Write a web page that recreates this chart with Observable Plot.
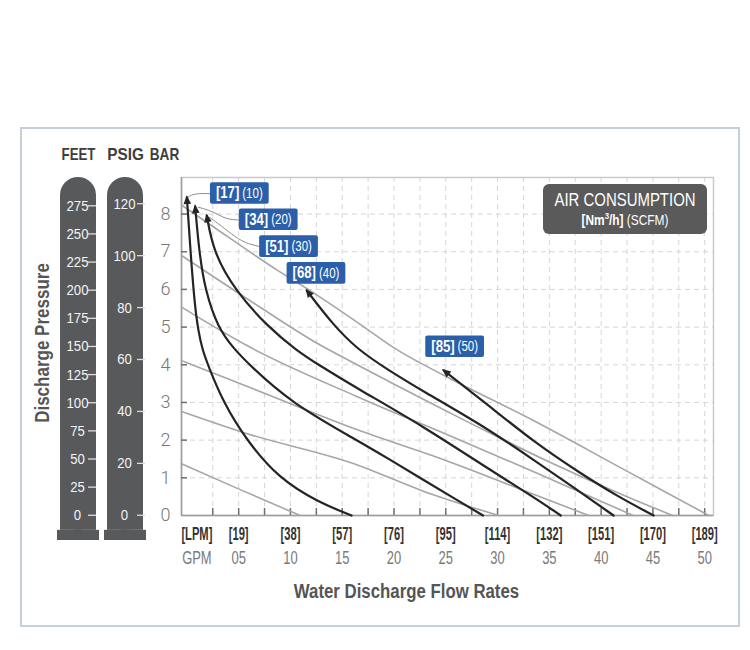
<!DOCTYPE html>
<html>
<head>
<meta charset="utf-8">
<script src="https://cdn.jsdelivr.net/npm/d3@7"></script>
<script src="https://cdn.jsdelivr.net/npm/@observablehq/plot@0.6"></script>
<style>
  html, body { margin: 0; padding: 0; background: #fff; }
  #wrap { position: relative; width: 750px; height: 650px; overflow: hidden; }
  #wrap > svg, #wrap > figure { position: absolute; left: 0; top: 0; margin: 0; }
  #panel { position: absolute; left: 20px; top: 127px; width: 720px; height: 500px; box-sizing: border-box; border: 2px solid #c7cedb; }
  #legend { position: absolute; left: 543px; top: 184px; width: 164px; height: 50px; background: #5a5a5a; border-radius: 6px; color: #fff; text-align: center; font-family: "Liberation Sans", Arial, sans-serif; }
  #legend .l1, #legend .l2 { position: absolute; left: -40px; right: -40px; white-space: nowrap; transform-origin: 50% 50%; }
  #legend .l1 { top: 6px; font-size: 18px; line-height: 20px; transform: scaleX(0.83); }
  #legend .l2 { top: 28px; font-size: 14.5px; line-height: 16px; transform: scaleX(0.82); }
  #legend sup { font-size: 9.5px; line-height: 0; }
</style>
</head>
<body>
<div id="wrap"><div id="panel"></div></div>
<script>
const FONT = '"Liberation Sans", Arial, sans-serif';
const FT_PER_BAR = 33.46;
const PSI_PER_BAR = 14.504;

// ---- axis / tick data ----
const gpmTicks = [0, 5, 10, 15, 20, 25, 30, 35, 40, 45, 50];
const lpmLabels = ["[LPM]", "[19]", "[38]", "[57]", "[76]", "[95]", "[114]", "[132]", "[151]", "[170]", "[189]"];
const gpmLabels = ["GPM", "05", "10", "15", "20", "25", "30", "35", "40", "45", "50"];
const gridGpm = [2.5, 5, 7.5, 10, 12.5, 15, 17.5, 20, 22.5, 25, 27.5, 30, 32.5, 35, 37.5, 40, 42.5, 45, 47.5, 50];
const barTicks = [0, 1, 2, 3, 4, 5, 6, 7, 8];
const feetTicks = [0, 25, 50, 75, 100, 125, 150, 175, 200, 225, 250, 275];
const psigTicks = [0, 20, 40, 60, 80, 100, 120];
const scaleUnits = ["FEET", "PSIG"];

// ---- air consumption curves (GPM, bar) ----
const airNm3 = [17, 34, 51, 68, 85];
const airScfm = [10, 20, 30, 40, 50];
const air10 = [[0,8.44],[0.35,7.0],[0.75,5.6],[1.1,4.9],[1.5,4.4],[2.02,4.0],[3.53,2.99],[5.78,1.99],[8.84,0.99],[12.7,0.35],[15.9,0]];
const air20 = [[0.8,8.2],[1.19,6.98],[1.77,5.97],[2.98,4.99],[4.55,4.42],[6.1,3.98],[10.0,3.0],[16.4,2.0],[19.5,1.5],[22.7,0.97],[25.9,0.44],[28.6,0]];
const air30 = [[1.92,7.96],[2.57,6.98],[4.66,5.97],[7.88,4.99],[10.6,4.38],[12.7,4.0],[16.4,3.38],[22.7,2.39],[29.1,1.24],[33.7,0.45],[36.1,0]];
const air40 = [[11.58,5.97],[14,5.1],[16.4,4.42],[19.5,3.85],[22.6,3.33],[29.1,2.3],[33.6,1.45],[37.5,0.72],[41.2,0]];
const air50 = [[24.8,3.85],[29,2.95],[33.65,1.92],[38,1.12],[41.5,0.52],[45.07,0]];

// ---- air inlet pressure lines (GPM, bar) ----
const inletPsi = [20, 40, 60, 80, 100, 120];
const inlet20 = [[-0.52,1.37],[5.2,0.68],[10.94,0]];
const inlet40 = [[-0.52,2.76],[5.6,2.19],[16.4,1.35],[22.7,0.66],[30.1,0]];
const inlet60 = [[-0.52,4.11],[5.6,3.45],[16.4,2.28],[25,1.46],[33.6,0.55],[38.8,0]];
const inlet80 = [[-0.52,5.53],[5.8,4.51],[16.4,3.16],[25,2.16],[33.6,1.15],[43.1,0]];
const inlet100 = [[-0.52,6.9],[6,5.72],[12.7,4.55],[16.3,4.02],[25,2.78],[35,1.42],[42,0.56],[46.9,0]];
const inlet120 = [[-0.52,8.24],[2.4,7.69],[8.8,6.5],[11.6,6.02],[16.6,5.1],[20,4.45],[24.8,3.72],[33.6,2.5],[42,1.25],[50.4,0]];

// ---- annotation anchors (data units) ----
const labelX = [5.06, 7.85, 9.81, 12.46, 25.85];
const labelY = [8.55, 7.85, 7.14, 6.43, 4.48];
const leader10 = [[2.3,8.54],[1.2,8.54],[0.45,8.5],[0.08,8.44]];
const leader20 = [[5.0,7.84],[3.9,7.88],[3.05,7.98],[2.09,8.1],[1.1,8.18]];
const leader30 = [[7.0,7.14],[5.63,7.25],[4.33,7.47],[3.05,7.74],[2.15,7.92]];

// ---- tables for Plot ----
const airRows = [air10, air20, air30, air40, air50].flatMap((pts, i) => pts.map(([x, y]) => ({x, y, scfm: airScfm[i]})));
const inletRows = [inlet20, inlet40, inlet60, inlet80, inlet100, inlet120].flatMap((pts, i) => pts.map(([x, y]) => ({x, y, psi: inletPsi[i]})));
const leaderRows = [leader10, leader20, leader30].flatMap((pts, i) => pts.map(([x, y]) => ({x, y, id: i})));
const airBoldText = airNm3.map(d => `[${d}]`);
const airRegText = airScfm.map(d => `(${d})`);

const xDomain = [-0.52, 50.85];
const yDomain = [0, 8.97];

const mainChart = Plot.plot({
  width: 750, height: 650,
  marginTop: 177, marginBottom: 135, marginLeft: 181, marginRight: 37,
  x: {domain: xDomain, axis: null},
  y: {domain: yDomain, axis: null},
  style: {background: "transparent", fontFamily: FONT},
  marks: [
    Plot.ruleX(gridGpm, {stroke: "#d6d6d6", strokeDasharray: "5,4"}),
    Plot.ruleY(barTicks.slice(1), {stroke: "#d6d6d6", strokeDasharray: "5,4"}),
    Plot.frame({stroke: "#c9c9c9", strokeWidth: 1.5}),
    Plot.ruleX([xDomain[0]], {stroke: "#9d9d9d", strokeWidth: 1.5}),
    Plot.ruleY([0], {stroke: "#9d9d9d", strokeWidth: 1.5}),
    Plot.ruleX(gridGpm, {stroke: "#707070", strokeWidth: 1.5, insetTop: 331}),
    Plot.ruleY(barTicks.slice(1), {stroke: "#707070", strokeWidth: 1.5, insetRight: 526}),
    Plot.line(inletRows, {x: "x", y: "y", z: "psi", stroke: "#a6a6a6", strokeWidth: 1.6, curve: "monotone-x"}),
    Plot.line(leaderRows, {x: "x", y: "y", z: "id", stroke: "#8c8c8c", strokeWidth: 1, curve: "natural"}),
    Plot.line(airRows, {x: "x", y: "y", z: "scfm", stroke: "#242424", strokeWidth: 2.2, curve: "basis", markerStart: "arrow"}),
    Plot.text(airBoldText, {x: (d, i) => labelX[i], y: (d, i) => labelY[i], text: d => d,
      fill: "#ffffff", fontSize: 16, fontWeight: "bold", textAnchor: "end", lineAnchor: "middle"}),
    Plot.text(airRegText, {x: (d, i) => labelX[i], y: (d, i) => labelY[i], text: d => d, dx: 3,
      fill: "#ffffff", fontSize: 14, textAnchor: "start", lineAnchor: "middle"}),
    Plot.text(barTicks, {y: d => d, text: d => String(d), frameAnchor: "left", dx: -16, textAnchor: "middle", lineAnchor: "middle",
      fill: "#777", fontSize: 18, fontFamily: "Roboto", fontWeight: 300}),
    Plot.text(["BAR"], {frameAnchor: "top-left", dx: -17, dy: -23, textAnchor: "middle", lineAnchor: "middle",
      fontSize: 17, fontWeight: "bold", fill: "#3d3d3d"}),
    Plot.text(gpmTicks.slice(1), {x: d => d, text: (d, i) => lpmLabels[i + 1], frameAnchor: "bottom", dy: 19,
      textAnchor: "middle", lineAnchor: "middle", fontSize: 18, fontWeight: "bold", fill: "#333"}),
    Plot.text(gpmTicks.slice(0, 1), {x: d => d, text: () => lpmLabels[0], frameAnchor: "bottom", dx: 10, dy: 19,
      textAnchor: "middle", lineAnchor: "middle", fontSize: 18, fontWeight: "bold", fill: "#333"}),
    Plot.text(gpmTicks.slice(1), {x: d => d, text: (d, i) => gpmLabels[i + 1], frameAnchor: "bottom", dy: 43,
      textAnchor: "middle", lineAnchor: "middle", fontSize: 18, fill: "#7a7a7a"}),
    Plot.text(gpmTicks.slice(0, 1), {x: d => d, text: () => gpmLabels[0], frameAnchor: "bottom", dx: 10, dy: 43,
      textAnchor: "middle", lineAnchor: "middle", fontSize: 18, fill: "#7a7a7a"}),
    Plot.text(["Water Discharge Flow Rates"], {frameAnchor: "bottom", dx: -41, dy: 76, textAnchor: "middle", lineAnchor: "middle",
      fontSize: 20, fontWeight: "bold", fill: "#555"})
  ]
});

const PILL = "#58595b";
const pillY = [-0.67, 8.97];
const pillChart = Plot.plot({
  width: 170, height: 650,
  marginTop: 177, marginBottom: 110, marginLeft: 0, marginRight: 0,
  x: {type: "band", domain: scaleUnits, range: [60, 143.3], paddingInner: 0.24, paddingOuter: 0, axis: null},
  y: {domain: pillY, axis: null},
  style: {background: "transparent", fontFamily: FONT},
  marks: [
    Plot.barY(scaleUnits, {x: d => d, y1: -0.4, y2: pillY[1], fill: PILL, rx: 18}),
    Plot.barY(scaleUnits, {x: d => d, y1: -0.4, y2: 4, fill: PILL}),
    Plot.barY(scaleUnits, {x: d => d, y1: pillY[0], y2: -0.4, fill: PILL, insetLeft: -3, insetRight: -3}),
    Plot.tickY(feetTicks, {x: () => "FEET", y: d => d / FT_PER_BAR, stroke: "#dcdcdc", strokeWidth: 1.3, insetLeft: 28}),
    Plot.tickY(psigTicks, {x: () => "PSIG", y: d => d / PSI_PER_BAR, stroke: "#dcdcdc", strokeWidth: 1.3, insetLeft: 30, insetRight: -2}),
    Plot.text(feetTicks, {x: () => "FEET", y: d => d / FT_PER_BAR, text: d => String(d), dx: -1,
      fill: "#f4f4f4", fontSize: 15.5, textAnchor: "middle", lineAnchor: "middle"}),
    Plot.text(psigTicks, {x: () => "PSIG", y: d => d / PSI_PER_BAR, text: d => String(d), dx: -1,
      fill: "#f4f4f4", fontSize: 15.5, textAnchor: "middle", lineAnchor: "middle"}),
    Plot.text(scaleUnits, {x: d => d, text: d => d, frameAnchor: "top", dy: -23, textAnchor: "middle", lineAnchor: "middle",
      fontSize: 17, fontWeight: "bold", fill: "#3d3d3d"}),
    Plot.text(["Discharge Pressure"], {frameAnchor: "left", dx: 42, dy: -16, rotate: -90, textAnchor: "middle", lineAnchor: "middle",
      fontSize: 20, fontWeight: "bold", fill: "#555"})
  ]
});

const wrap = document.getElementById("wrap");
wrap.appendChild(mainChart);
wrap.appendChild(pillChart);

const legend = document.createElement("div");
legend.id = "legend";
legend.innerHTML = '<div class="l1">AIR CONSUMPTION</div><div class="l2"><b>[Nm<sup>3</sup>/h]</b> (SCFM)</div>';
wrap.appendChild(legend);

const svgNS = "http://www.w3.org/2000/svg";

// condense a text element along its own baseline
function squeeze(el, s) {
  const w = el.getComputedTextLength();
  if (w > 0) {
    el.setAttribute("textLength", (w * s).toFixed(2));
    el.setAttribute("lengthAdjust", "spacingAndGlyphs");
  }
}

// filled arrowheads at curve starts
d3.select(mainChart).selectAll("marker").each(function() {
  const m = d3.select(this);
  const c = m.attr("stroke") || "#242424";
  m.attr("fill", c).attr("stroke", "none").attr("orient", "auto-start-reverse").style("overflow", "visible");
  m.selectAll("*").remove();
  m.append("path").attr("d", "M-4.5,-2.6L1.5,0L-4.5,2.6Z");
});

const boldEls = [], regEls = [];
d3.select(mainChart).selectAll("text").each(function() {
  const txt = this.textContent;
  if (airBoldText.includes(txt)) { squeeze(this, 0.82); boldEls.push(this); }
  else if (airRegText.includes(txt)) { squeeze(this, 0.82); regEls.push(this); }
  else if (lpmLabels.includes(txt)) squeeze(this, 0.62);
  else if (gpmLabels.includes(txt)) squeeze(this, 0.72);
  else if (txt === "Water Discharge Flow Rates") squeeze(this, 0.84);
  else if (txt === "BAR") squeeze(this, 0.8);
});

// blue boxes behind the air-consumption labels
if (boldEls.length) {
  const sr = mainChart.getBoundingClientRect();
  const boxG = document.createElementNS(svgNS, "g");
  mainChart.insertBefore(boxG, boldEls[0].parentNode);
  boldEls.forEach((b, i) => {
    const a = b.getBoundingClientRect();
    const c = regEls[i] ? regEls[i].getBoundingClientRect() : a;
    const x0 = Math.min(a.left, c.left) - sr.left, x1 = Math.max(a.right, c.right) - sr.left;
    const cy = (a.top + a.bottom) / 2 - sr.top;
    d3.select(boxG).append("rect").attr("x", x0 - 6).attr("y", cy - 10.8).attr("width", x1 - x0 + 12).attr("height", 21.6)
      .attr("rx", 2).attr("fill", "#2c5fa9");
  });
}

d3.select(pillChart).selectAll("text").each(function() {
  const txt = this.textContent;
  if (txt === "Discharge Pressure") squeeze(this, 0.85);
  else if (scaleUnits.includes(txt)) squeeze(this, txt === "FEET" ? 0.78 : 0.9);
  else squeeze(this, 0.85);
});
</script>
</body>
</html>
